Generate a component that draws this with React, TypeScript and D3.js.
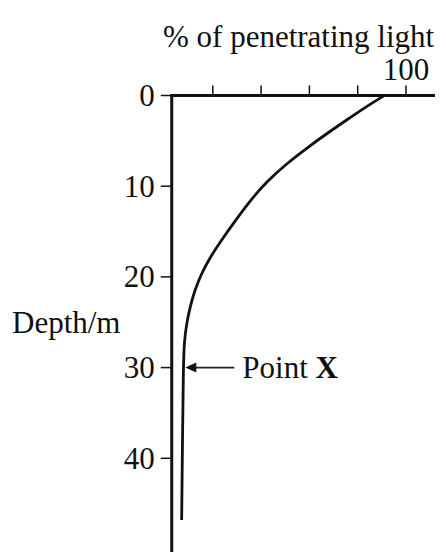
import React from "react";
import * as d3 from "d3";

const depthM = [0, 1.2, 2.7, 4.2, 5.8, 7.5, 9.5, 11.6, 14.1, 16.1, 18.1, 19.6, 21.4, 23.3, 25.1, 27.0, 29.9, 36.9, 46.8];
const lightPct = [91.0, 83.7, 75.4, 67.2, 58.9, 50.6, 42.3, 35.4, 28.5, 23.2, 18.3, 15.4, 12.6, 10.6, 9.2, 8.2, 7.8, 7.5, 7.1];
const xTicks = [20, 40, 60, 80, 100];
const xTickLabels = ["100"];
const yTicks = [0, 10, 20, 30, 40];
const pointXDepth = 30;

const W = 446;
const H = 552;
const FONT = "'Liberation Serif', 'Times New Roman', serif";

export default function App() {
  const x = d3.scaleLinear().domain([0, 100]).range([164.5, 406]);
  const y = d3.scaleLinear().domain([0, 50]).range([95.5, 549]);
  const xMin = 3;
  const xMax = 112;
  const yMax = 51;

  const pts: [number, number][] = depthM.map((d, i) => [lightPct[i], d]);
  const line = d3
    .line<[number, number]>()
    .x((p) => x(p[0]))
    .y((p) => y(p[1]))
    .curve(d3.curveBasis);

  const ax = x(xMin);
  const ay = y(0);
  const interp = d3.scaleLinear().domain(depthM).range(lightPct);
  const tipX = x(interp(pointXDepth)) + 2;
  const tipY = y(pointXDepth);

  return (
    <svg
      width={W}
      height={H}
      style={{ position: "absolute", left: 0, top: 0, background: "#fff" }}
      fontFamily={FONT}
    >
      <rect x={0} y={0} width={W} height={H} fill="#fff" />
      {/* title */}
      <text x={163} y={47} fontSize={31} fill="#111">
        % of penetrating light
      </text>
      {/* x axis */}
      <line x1={ax} x2={x(xMax)} y1={ay} y2={ay} stroke="#111" strokeWidth={3} />
      {xTicks.map((t) => (
        <line key={t} x1={x(t)} x2={x(t)} y1={ay} y2={ay - 10} stroke="#111" strokeWidth={1.5} />
      ))}
      {xTickLabels.map((l) => (
        <text key={l} x={x(+l)} y={80} fontSize={31} textAnchor="middle" fill="#111">
          {l}
        </text>
      ))}
      {/* y axis */}
      <line x1={ax} x2={ax} y1={ay - 1.5} y2={y(yMax)} stroke="#111" strokeWidth={3} />
      {yTicks.map((t) => (
        <g key={t}>
          <line x1={ax - 11} x2={ax} y1={y(t)} y2={y(t)} stroke="#111" strokeWidth={1.5} />
          <text x={ax - 17} y={y(t)} dy="0.34em" fontSize={31} textAnchor="end" fill="#111">
            {t}
          </text>
        </g>
      ))}
      <text x={12} y={333} fontSize={31} fill="#111">
        Depth/m
      </text>
      {/* curve */}
      <path d={line(pts) || ""} fill="none" stroke="#111" strokeWidth={2.8} strokeLinecap="butt" />
      {/* arrow */}
      <line x1={tipX + 8} x2={tipX + 49} y1={tipY} y2={tipY} stroke="#222" strokeWidth={1.6} />
      <path d={`M${tipX},${tipY} L${tipX + 11},${tipY - 5} L${tipX + 11},${tipY + 5} Z`} fill="#111" />
      <text x={tipX + 57} y={tipY + 10} fontSize={31} fill="#111">
        Point <tspan fontWeight="bold">X</tspan>
      </text>
    </svg>
  );
}
